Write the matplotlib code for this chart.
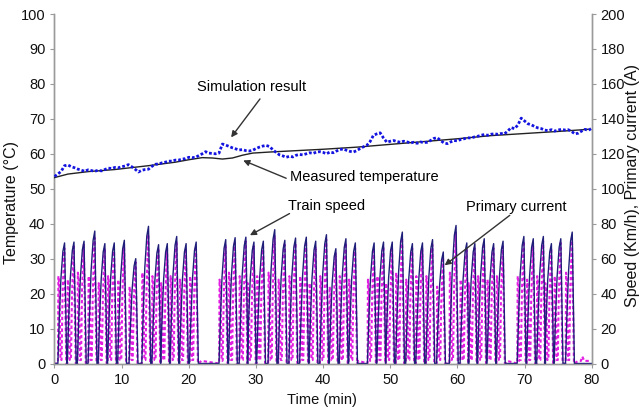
import numpy as np
import matplotlib
matplotlib.use("Agg")
import matplotlib.pyplot as plt

plt.rcParams['font.family'] = ['Liberation Sans', 'DejaVu Sans']

# ---------------- data ----------------
# Simulated temperature (deg C), sampled every 0.5 min from 0 to 80 min
sim_time = np.arange(0, 80.01, 0.5)
sim_temp = [
    53.5, 54.2, 55.0, 56.6, 56.8, 56.3, 56.0, 55.6, 55.3, 55.0,
    55.4, 55.2, 55.0, 55.3, 55.1, 55.5, 55.9, 55.8, 56.1, 56.0,
    56.3, 56.5, 56.9, 56.3, 55.6, 54.8, 55.3, 55.5, 55.6, 56.4,
    57.0, 57.1, 57.4, 57.6, 57.9, 57.9, 58.2, 58.2, 58.5, 58.6,
    59.0, 58.9, 59.0, 59.5, 60.0, 60.6, 60.2, 60.1, 60.0, 60.2,
    62.8, 62.5, 62.1, 61.7, 61.4, 61.1, 61.2, 60.9, 60.8, 61.0,
    61.5, 61.9, 62.2, 62.4, 62.1, 61.2, 60.4, 59.7, 59.4, 59.0,
    59.3, 59.1, 59.6, 59.8, 59.7, 60.0, 60.3, 60.1, 60.5, 60.6,
    60.4, 60.0, 60.5, 60.3, 60.8, 61.2, 61.4, 61.0, 60.7, 60.5,
    60.9, 61.5, 62.0, 62.4, 63.5, 65.3, 65.7, 66.0, 64.5, 63.3,
    63.6, 63.8, 63.5, 63.3, 63.6, 63.4, 63.1, 63.3, 63.0, 63.4,
    63.2, 63.3, 63.8, 64.4, 64.6, 63.8, 63.1, 62.9, 63.4, 63.8,
    63.7, 64.1, 64.3, 64.6, 64.5, 64.8, 65.0, 65.3, 65.5, 65.3,
    65.6, 65.7, 65.6, 65.8, 65.7, 66.5, 67.5, 67.2, 68.2, 70.2,
    69.4, 68.6, 68.3, 67.8, 67.4, 67.2, 66.8, 66.6, 66.9, 66.5,
    66.8, 67.0, 66.8, 66.9, 66.4, 65.7, 65.9, 66.5, 67.0, 66.7,
    67.3,
]

# Measured temperature (deg C)
meas_time = [0, 2, 5, 9, 14, 18, 20, 22, 23.5, 25, 26.5, 28, 29.5, 32, 35,
             40, 45, 50, 55, 60, 65, 70, 75, 79.5]
meas_temp = [53.2, 54.2, 54.9, 55.5, 56.6, 57.6, 58.3, 58.9, 58.8, 58.5, 58.8,
             59.6, 60.2, 60.5, 60.8, 61.3, 61.9, 62.7, 63.5, 64.3, 65.2, 65.8,
             66.4, 67.0]

# Train speed runs: peak time (min) and peak speed (km/h)
peak_time = [1.5, 2.9, 4.4, 6.0, 7.5, 8.9, 10.4, 12.1, 14.0, 15.5, 16.8, 18.2,
             19.6, 21.1, 25.5, 26.9, 28.5, 29.7, 31.1, 32.8, 34.3, 35.9, 37.5,
             38.9, 40.5, 41.9, 43.4, 44.8, 47.6, 49.0, 50.3, 51.8, 53.3, 54.8,
             56.3, 57.9, 59.8, 61.4, 62.6, 64.0, 65.4, 66.8, 69.9, 71.3, 72.8,
             74.0, 75.4, 77.1]
peak_speed = [69, 69.5, 70, 75.8, 68.6, 69, 70.5, 60, 78.5, 68, 68.6, 72.7,
              68.6, 69.5, 70.9, 72, 72.3, 69.5, 70, 76.6, 70.5, 71.8, 72.3,
              70, 73.7, 65.7, 71.4, 69, 69, 69.5, 69.5, 75.2, 68.6, 69, 70.9,
              63.8, 79, 69, 68.6, 71.4, 68.6, 70, 72.7, 71.4, 72.7, 68.6,
              71.4, 75.2]
# Primary current peak per run (A)
current_peak = [66, 67, 68, 72, 66, 66, 68, 58, 74, 66, 66, 70,
                66, 67, 68, 69, 70, 67, 67, 73, 68, 69, 70,
                67, 71, 63, 69, 66, 66, 67, 67, 72, 66, 66, 68,
                61, 75, 66, 66, 69, 66, 67, 70, 69, 70, 66,
                69, 72]
# Primary current during acceleration (A)
current_accel = [50, 48, 52, 50, 46, 50, 48, 44, 52, 50, 46, 50,
                 48, 50, 48, 52, 50, 46, 50, 52, 48, 50, 50,
                 46, 50, 44, 50, 48, 48, 50, 46, 52, 48, 50, 50,
                 44, 52, 48, 46, 50, 48, 50, 50, 48, 50, 46,
                 50, 52]

# Idle current during long stops
idle_time = [21.9, 25.0, 45.3, 47.0, 67.4, 69.2, 78.0, 78.4, 78.6, 78.9, 79.6]
idle_current = [1.5, 1.5, 1.5, 1.5, 1.5, 1.5, 1.5, 1.5, 4.0, 1.5, 1.5]

# -------------- shapes (style of one run) --------------
spd_off = [-1.0, -0.8, -0.55, -0.25, 0.0, 0.15, 0.32]
spd_frac = [0, 0.35, 0.7, 0.93, 1.0, 0.55, 0]

st, sv = [0.0], [0.0]
for pt, pv in zip(peak_time, peak_speed):
    for o, f in zip(spd_off, spd_frac):
        st.append(pt + o)
        sv.append(pv * f)
st.append(80.0); sv.append(0.0)

runs = [(0.0, 0.0)]
for pt, pk, pa in zip(peak_time, current_peak, current_accel):
    runs.append((pt - 0.98, 0.0))
    runs.append((pt - 0.92, pa))
    runs.append((pt - 0.78, pa * 0.9))
    runs.append((pt - 0.62, 2.0))
    runs.append((pt - 0.45, 2.0))
    runs.append((pt - 0.3, pa * 0.8))
    runs.append((pt - 0.04, pk))
    runs.append((pt + 0.08, pk * 0.6))
    runs.append((pt + 0.26, 0.0))
runs += list(zip(idle_time, idle_current))
runs.sort()
ct = [a for a, b in runs]
cv = [b for a, b in runs]

# ---------------- plot ----------------
fig = plt.figure(figsize=(6.44, 4.12), dpi=100)
ax = fig.add_axes([54.5 / 644, (412 - 363.5) / 412, (591.7 - 54.5) / 644, (363.5 - 14) / 412])
ax2 = ax.twinx()

ax2.plot(ct, cv, color='#e31ee3', lw=1.5, ls=(0, (1.6, 1.2)), zorder=2)
ax2.plot(st, sv, color='#1f1f7a', lw=1.0, zorder=3)

ax.plot(meas_time, meas_temp, color='#222222', lw=1.0, zorder=4)
ax.plot(sim_time, sim_temp, color='#1414e0', lw=2.0, ls=(0, (1, 0.7)), zorder=5)

ax.set_zorder(ax2.get_zorder() + 1)
ax.patch.set_visible(False)

ax.set_xlim(0, 80)
ax.set_ylim(0, 100)
ax2.set_ylim(0, 200)
ax.set_xticks(range(0, 81, 10))
ax.set_yticks(range(0, 101, 10))
ax2.set_yticks(range(0, 201, 20))

gray = '#9a9a9a'
for a in (ax, ax2):
    a.spines['top'].set_visible(False)
    for s in ('left', 'right', 'bottom'):
        a.spines[s].set_color(gray)
        a.spines[s].set_linewidth(1.0)
    a.tick_params(colors=gray, labelcolor='#111111', labelsize=10.5, length=3, width=0.8)
ax.tick_params(axis='x', pad=4)

ax.set_xlabel('Time (min)', fontsize=10.5, color='#111111')
ax.xaxis.set_label_coords(0.498, -0.083)
ax.set_ylabel('Temperature (°C)', fontsize=11.5, color='#111111')
ax.yaxis.set_label_coords(-0.066, 0.46)
ax2.set_ylabel('Speed (Km/h), Primary current (A)', fontsize=11.5, color='#111111')
ax2.yaxis.set_label_coords(1.062, 0.51)

arrow = dict(arrowstyle='-|>', color='#333333', lw=1.0, mutation_scale=9, shrinkA=0, shrinkB=0)
ax.annotate('', xy=(26.3, 64.7), xytext=(30.6, 75.7), arrowprops=arrow)
ax.text(29.3, 79.0, 'Simulation result', ha='center', va='center', fontsize=10.5)
ax.annotate('', xy=(28.1, 58.1), xytext=(34.5, 53.0), arrowprops=arrow)
ax.text(35.0, 53.3, 'Measured temperature', ha='left', va='center', fontsize=10.5)
ax.annotate('', xy=(29.1, 36.7), xytext=(35.0, 42.9), arrowprops=arrow)
ax.text(40.5, 45.2, 'Train speed', ha='center', va='center', fontsize=10.5)
ax.annotate('', xy=(58.1, 28.1), xytext=(67.8, 42.4), arrowprops=arrow)
ax.text(68.7, 44.9, 'Primary current', ha='center', va='center', fontsize=10.5)

fig.savefig('out.png', dpi=100)
